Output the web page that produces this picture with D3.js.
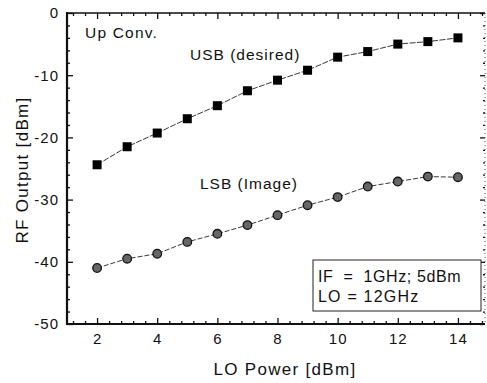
<!DOCTYPE html>
<html>
<head>
<meta charset="utf-8">
<script src="https://cdn.jsdelivr.net/npm/d3@7"></script>
<style>
  body { margin: 0; background: #fff; }
  text { font-family: "Liberation Sans", Arial, sans-serif; fill: #111; white-space: pre; }
</style>
</head>
<body>
<script>
var loPower = [2, 3, 4, 5, 6, 7, 8, 9, 10, 11, 12, 13, 14];
var usb = [-24.4, -21.5, -19.3, -17.0, -14.9, -12.5, -10.8, -9.2, -7.1, -6.2, -5.0, -4.6, -4.0];
var lsb = [-41.0, -39.5, -38.7, -36.8, -35.5, -34.1, -32.5, -30.9, -29.6, -27.9, -27.1, -26.3, -26.4];
var xTicks = [2, 4, 6, 8, 10, 12, 14];
var yTicks = [0, -10, -20, -30, -40, -50];

var width = 487, height = 383;
var plotLeft = 67, plotRight = 485, plotTop = 13, plotBottom = 324;

var svg = d3.select("body").append("svg")
    .attr("width", width)
    .attr("height", height);

var x = d3.scaleLinear().domain([1, 14.9]).range([plotLeft, plotRight]);
var y = d3.scaleLinear().domain([-50, 0]).range([plotBottom, plotTop]);

var xMinor = d3.range(1.2, 14.9, 0.4).filter(function(v) { return Math.abs(v / 2 - Math.round(v / 2)) > 0.01; });
var yMinor = d3.range(-48, 0, 2).filter(function(v) { return v % 10 !== 0; });
var plain = function(d) { return String(d); };  // hyphen, not unicode minus

// axes, ticks pointing inward
var gb = svg.append("g").attr("transform", "translate(0," + plotBottom + ")")
    .call(d3.axisBottom(x).tickValues(xTicks).tickSize(-6).tickPadding(9).tickFormat(plain));
gb.append("g").call(d3.axisBottom(x).tickValues(xMinor).tickSize(-3).tickFormat(""));

var gl = svg.append("g").attr("transform", "translate(" + plotLeft + ",0)")
    .call(d3.axisLeft(y).tickValues(yTicks).tickSize(-6).tickPadding(8).tickFormat(plain));
gl.append("g").call(d3.axisLeft(y).tickValues(yMinor).tickSize(-3).tickFormat(""));

var gt = svg.append("g").attr("transform", "translate(0," + plotTop + ")")
    .call(d3.axisTop(x).tickValues(xTicks).tickSize(-6).tickFormat(""));
gt.append("g").call(d3.axisTop(x).tickValues(xMinor).tickSize(-3).tickFormat(""));

var gr = svg.append("g").attr("transform", "translate(" + plotRight + ",0)")
    .call(d3.axisRight(y).tickValues(yTicks).tickSize(-5).tickFormat(""));
gr.append("g").call(d3.axisRight(y).tickValues(yMinor).tickSize(-2).tickFormat(""));

svg.selectAll(".domain").remove();
svg.selectAll(".tick line").attr("stroke", "#111").attr("stroke-width", 1.3);
svg.selectAll(".tick text").attr("font-size", 15).attr("fill", "#111")
    .attr("font-family", "Liberation Sans, Arial, sans-serif").attr("letter-spacing", 1);

// frame
svg.append("line").attr("x1", plotLeft).attr("x2", plotLeft).attr("y1", plotTop - 1).attr("y2", plotBottom + 1)
    .attr("stroke", "#111").attr("stroke-width", 2.2);
svg.append("line").attr("x1", plotLeft).attr("x2", plotRight).attr("y1", plotBottom).attr("y2", plotBottom)
    .attr("stroke", "#111").attr("stroke-width", 2.2);
svg.append("line").attr("x1", plotLeft).attr("x2", plotRight).attr("y1", plotTop).attr("y2", plotTop)
    .attr("stroke", "#111").attr("stroke-width", 1.6);
svg.append("line").attr("x1", plotRight).attr("x2", plotRight).attr("y1", plotTop).attr("y2", plotBottom)
    .attr("stroke", "#555").attr("stroke-width", 1).attr("stroke-dasharray", "1,3");

// lines
var line = d3.line().x(function(d, i) { return x(loPower[i]); }).y(function(d) { return y(d); });
svg.append("path").datum(usb).attr("d", line)
    .attr("fill", "none").attr("stroke", "#222").attr("stroke-width", 0.9).attr("stroke-dasharray", "6,1.5");
svg.append("path").datum(lsb).attr("d", line)
    .attr("fill", "none").attr("stroke", "#222").attr("stroke-width", 0.9).attr("stroke-dasharray", "5,2");

// markers
svg.selectAll("rect.usb").data(usb).enter().append("rect")
    .attr("class", "usb")
    .attr("x", function(d, i) { return x(loPower[i]) - 4.5; })
    .attr("y", function(d) { return y(d) - 4.5; })
    .attr("width", 9).attr("height", 9)
    .attr("fill", "#000");
svg.selectAll("circle.lsb").data(lsb).enter().append("circle")
    .attr("class", "lsb")
    .attr("cx", function(d, i) { return x(loPower[i]); })
    .attr("cy", function(d) { return y(d); })
    .attr("r", 4.3)
    .attr("fill", "#666").attr("stroke", "#111").attr("stroke-width", 1.3);

// annotations
svg.append("text").attr("x", 85).attr("y", 38).attr("font-size", 15.5).attr("letter-spacing", 1.2).text("Up Conv.");
svg.append("text").attr("x", 190).attr("y", 60).attr("font-size", 15.5).attr("letter-spacing", 1).text("USB (desired)");
svg.append("text").attr("x", 200).attr("y", 189).attr("font-size", 15.5).attr("letter-spacing", 1).text("LSB (Image)");

// info box
svg.append("rect").attr("x", 313).attr("y", 260).attr("width", 168).attr("height", 51)
    .attr("fill", "#fff").attr("stroke", "#222").attr("stroke-width", 1);
svg.append("text").attr("x", 318).attr("y", 282).attr("font-size", 16).attr("letter-spacing", 0.6).text("IF  =  1GHz; 5dBm");
svg.append("text").attr("x", 318).attr("y", 302).attr("font-size", 16).attr("letter-spacing", 1.2).text("LO = 12GHz");

// axis titles
svg.append("text").attr("x", 285).attr("y", 375).attr("text-anchor", "middle")
    .attr("font-size", 17).attr("letter-spacing", 1.3).text("LO Power [dBm]");
svg.append("text").attr("transform", "translate(28,170) rotate(-90)").attr("text-anchor", "middle")
    .attr("font-size", 17).attr("letter-spacing", 1.3).text("RF Output [dBm]");
</script>
</body>
</html>
